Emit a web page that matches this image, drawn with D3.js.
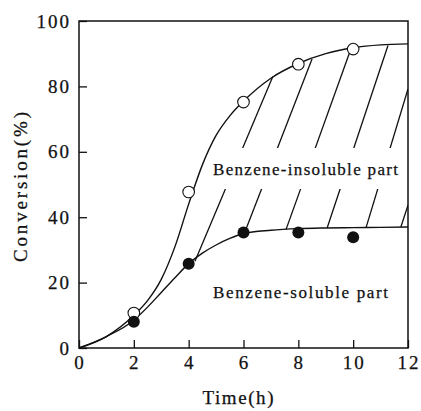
<!DOCTYPE html>
<html>
<head>
<meta charset="utf-8">
<script src="https://cdn.jsdelivr.net/npm/d3@7"></script>
<style>
  body { margin: 0; background: #fff; }
  svg { display: block; }
  text { fill: #111; stroke: #111; stroke-width: 0.25px; }
</style>
</head>
<body>
<svg id="chart" width="421" height="411"></svg>
<script>
// tick values
const timeTicks = [0, 2, 4, 6, 8, 10, 12];
const convTicks = [0, 20, 40, 60, 80, 100];

// measured points
const sampleTimes = [2, 4, 6, 8, 10];
const totalConv = [10.7, 47.7, 75.2, 86.8, 91.4];   // open circles
const solubleConv = [8.0, 25.8, 35.3, 35.3, 33.9];  // filled circles

// fitted curves
const fitTimes = [0, 1, 2, 2.5, 3, 3.5, 4, 4.5, 5, 5.5, 6, 7, 8, 9, 10, 11, 12];
const totalFit = [0, 3.5, 10, 14.5, 21, 31, 44, 56, 65, 71, 75.5, 82.5, 87, 90, 91.8, 92.7, 93];
const solubleFit = [0, 3.5, 8.5, 12.5, 17, 21.5, 25.8, 29, 31.5, 33.5, 35, 36, 36.5, 36.7, 36.8, 36.9, 37];

// hatch strokes between the curves: [time, conversion] at each end
const hatchFrom = [[4.23, 26.5], [6.05, 35.5], [7.55, 36.2], [9.05, 36.7], [10.47, 36.8], [11.74, 37]];
const hatchTo = [[7.07, 83], [8.5, 88.4], [9.88, 90.6], [11.27, 92.5], [12, 79.2], [12, 43.7]];

const FONT = '"Liberation Serif", "Times New Roman", serif';

const margin = {top: 21, right: 13, bottom: 63, left: 79},
  width = 421 - margin.left - margin.right,
  height = 411 - margin.top - margin.bottom;

const x = d3.scaleLinear().domain([0, 12]).range([0, width]);
const y = d3.scaleLinear().domain([0, 100]).range([height, 0]);

const svg = d3.select('#chart');
const chart = svg.append('g')
  .attr('transform', 'translate(' + margin.left + ',' + margin.top + ')');

chart.append('clipPath').attr('id', 'plotClip')
  .append('rect').attr('width', width).attr('height', height);

// hatching
chart.append('g').attr('clip-path', 'url(#plotClip)')
  .selectAll('line')
  .data(hatchFrom.map((d, i) => [d, hatchTo[i]]))
  .enter().append('line')
  .attr('x1', d => x(d[0][0])).attr('y1', d => y(d[0][1]))
  .attr('x2', d => x(d[1][0])).attr('y2', d => y(d[1][1]))
  .attr('stroke', '#111').attr('stroke-width', 1.3);

// white band behind upper label
chart.append('rect')
  .attr('x', 208 - margin.left).attr('y', 148 - margin.top)
  .attr('width', 197).attr('height', 41)
  .attr('fill', '#fff');

const line = d3.line().curve(d3.curveMonotoneX)
  .x(d => x(d[0])).y(d => y(d[1]));

chart.append('path')
  .datum(fitTimes.map((t, i) => [t, totalFit[i]]))
  .attr('d', line).attr('fill', 'none').attr('stroke', '#111').attr('stroke-width', 1.4);
chart.append('path')
  .datum(fitTimes.map((t, i) => [t, solubleFit[i]]))
  .attr('d', line).attr('fill', 'none').attr('stroke', '#111').attr('stroke-width', 1.4);

// axes (ticks inside, no labels from d3)
const xAxis = d3.axisTop(x).tickValues(timeTicks).tickSize(8).tickFormat('');
const yAxis = d3.axisRight(y).tickValues(convTicks).tickSize(8).tickFormat('');
chart.append('g').attr('transform', 'translate(0,' + height + ')').call(xAxis)
  .call(g => g.select('.domain').remove())
  .selectAll('line').attr('stroke', '#111').attr('stroke-width', 1.3);
chart.append('g').call(yAxis)
  .call(g => g.select('.domain').remove())
  .selectAll('line').attr('stroke', '#111').attr('stroke-width', 1.3);

chart.append('rect')
  .attr('width', width).attr('height', height)
  .attr('fill', 'none').attr('stroke', '#111').attr('stroke-width', 1.5);

// tick labels
chart.selectAll('.xlab').data(timeTicks).enter().append('text')
  .attr('class', 'xlab')
  .attr('x', d => x(d) + 1).attr('y', height + 21)
  .attr('text-anchor', 'middle')
  .style('font-family', FONT)
  .style('font-size', '19px').style('letter-spacing', '2px')
  .text(d => d);
chart.selectAll('.ylab').data(convTicks).enter().append('text')
  .attr('class', 'ylab')
  .attr('x', -8).attr('y', d => y(d)).attr('dy', '0.35em')
  .attr('text-anchor', 'end')
  .style('font-family', FONT)
  .style('font-size', '19px').style('letter-spacing', '2px')
  .text(d => d);

// axis titles
svg.append('text')
  .attr('x', 238).attr('y', 404)
  .attr('text-anchor', 'middle')
  .attr('textLength', 71).attr('lengthAdjust', 'spacing')
  .style('font-family', FONT).style('font-size', '19px')
  .text('Time(h)');
svg.append('text')
  .attr('transform', 'translate(27,187) rotate(-90)')
  .attr('text-anchor', 'middle')
  .attr('textLength', 150).attr('lengthAdjust', 'spacing')
  .style('font-family', FONT).style('font-size', '19px')
  .text('Conversion(%)');

// region labels
svg.append('text')
  .attr('x', 213).attr('y', 175)
  .attr('textLength', 185).attr('lengthAdjust', 'spacing')
  .style('font-family', FONT).style('font-size', '17px')
  .text('Benzene-insoluble part');
svg.append('text')
  .attr('x', 213).attr('y', 298)
  .attr('textLength', 175).attr('lengthAdjust', 'spacing')
  .style('font-family', FONT).style('font-size', '17px')
  .text('Benzene-soluble part');

// data markers
chart.selectAll('.open').data(sampleTimes).enter().append('circle')
  .attr('class', 'open')
  .attr('cx', d => x(d)).attr('cy', (d, i) => y(totalConv[i]))
  .attr('r', 5.8)
  .attr('fill', '#fff').attr('stroke', '#111').attr('stroke-width', 1.1);
chart.selectAll('.filled').data(sampleTimes).enter().append('circle')
  .attr('class', 'filled')
  .attr('cx', d => x(d)).attr('cy', (d, i) => y(solubleConv[i]))
  .attr('r', 6)
  .attr('fill', '#111');
</script>
</body>
</html>
